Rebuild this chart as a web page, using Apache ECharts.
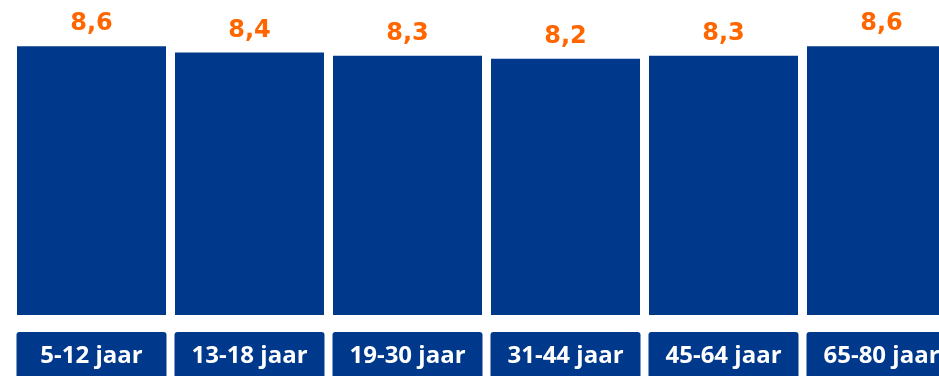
<!DOCTYPE html>
<html>
<head>
<meta charset="utf-8">
<script src="https://cdn.jsdelivr.net/npm/echarts@6/dist/echarts.min.js"></script>
<style>
  html, body { margin: 0; padding: 0; background: #fff; }
  #chart { width: 939px; height: 376px; }
</style>
</head>
<body>
<div id="chart"></div>
<script>
// leeftijdsgroepen en gemiddeld rapportcijfer
const categories = ["5-12 jaar", "13-18 jaar", "19-30 jaar", "31-44 jaar", "45-64 jaar", "65-80 jaar"];
const scores = [8.6, 8.4, 8.3, 8.2, 8.3, 8.6];

const blue = "#00388b";
const orange = "#ff6600";

const chart = echarts.init(document.getElementById("chart"));
const option = {
  animation: false,
  grid: { left: 12.5, right: -21.5, top: 33.75, bottom: 61, containLabel: false, outerBoundsMode: "none" },
  xAxis: {
    type: "category",
    data: categories,
    axisLine: { show: false },
    axisTick: { show: false },
    axisLabel: {
      interval: 0,
      margin: 17,
      color: "#fff",
      fontFamily: "Open Sans",
      fontWeight: "bold",
      fontSize: 24,
      lineHeight: 24,
      backgroundColor: blue,
      borderRadius: 3,
      width: 150,
      align: "center",
      padding: [12, 0, 20, 0],
      hideOverlap: false
    }
  },
  yAxis: {
    type: "value",
    min: 0,
    max: 9,
    show: false
  },
  series: [
    {
      type: "bar",
      data: scores,
      barWidth: 149,
      itemStyle: { color: blue },
      label: {
        show: true,
        position: "top",
        distance: 10,
        color: orange,
        fontFamily: "DejaVu Sans",
        fontWeight: "bold",
        fontSize: 24,
        formatter: (p) => p.value.toFixed(1).replace(".", ",")
      }
    }
  ]
};
chart.setOption(option);
</script>
</body>
</html>
